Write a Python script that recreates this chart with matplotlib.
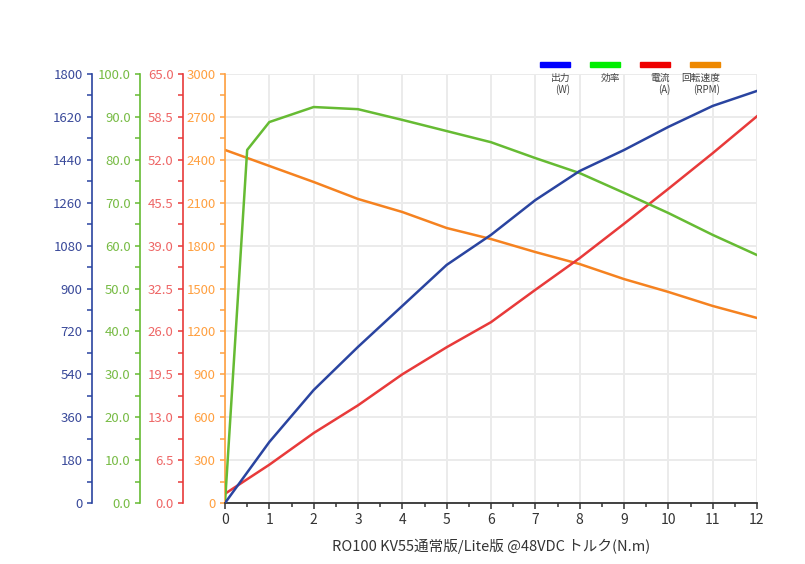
import matplotlib.pyplot as plt
from matplotlib.patches import Rectangle
from matplotlib.ticker import MultipleLocator, FormatStrFormatter

plt.rcParams['font.family'] = ['Noto Sans CJK JP', 'DejaVu Sans']

# data
torque = [0, 1, 2, 3, 4, 5, 6, 7, 8, 9, 10, 11, 12]
power = [0, 256, 474, 655, 827, 999, 1125, 1271, 1393, 1481, 1578, 1666, 1729]
eff_torque = [0, 0.5, 1, 2, 3, 4, 5, 6, 7, 8, 9, 10, 11, 12]
efficiency = [0, 82.3, 88.8, 92.3, 91.8, 89.3, 86.7, 84.1, 80.4, 76.9, 72.3, 67.6, 62.5, 57.8]
current = [1.4, 5.8, 10.6, 14.8, 19.5, 23.6, 27.4, 32.3, 37.1, 42.3, 47.6, 53.0, 58.6]
rpm = [2469, 2357, 2245, 2126, 2035, 1923, 1846, 1755, 1671, 1566, 1476, 1378, 1294]

legend_labels = ['出力\n(W)', '効率', '電流\n(A)', '回転速度\n(RPM)']
legend_colors = ['#0000ff', '#00ee00', '#ee0000', '#ee8800']
xlabel = 'RO100 KV55通常版/Lite版 @48VDC トルク(N.m)'

c_blue, c_green, c_red, c_orange = '#2a44a0', '#66bb33', '#e83a3a', '#f58220'
t_blue, t_green, t_red, t_orange = '#3a4a9a', '#77bb44', '#ee6666', '#ffa040'

fig = plt.figure(figsize=(8.05, 5.64), dpi=100)
ax = fig.add_axes([225 / 805, 1 - 503 / 564, 532 / 805, 429 / 564])

ax.set_xlim(0, 12)
ax.set_ylim(0, 3000)
ax.xaxis.set_major_locator(MultipleLocator(1))
ax.xaxis.set_minor_locator(MultipleLocator(0.5))
ax.grid(True, which='major', color='#ebebeb', linewidth=1.4)
ax.set_axisbelow(True)
for s in ['top', 'right']:
    ax.spines[s].set_visible(False)
ax.spines['bottom'].set_color('#333333')
ax.spines['bottom'].set_linewidth(1.3)
ax.tick_params(axis='x', which='both', direction='out', colors='#333333',
               labelsize=10, length=3, width=1.1)
ax.tick_params(axis='x', which='major', length=4)
ax.set_xlabel(xlabel, fontsize=10.5, color='#333333', labelpad=8)


def style_axis(a, color, tcolor, major, fmt, lim):
    a.set_ylim(0, lim)
    a.yaxis.set_major_locator(MultipleLocator(major))
    a.yaxis.set_minor_locator(MultipleLocator(major / 2))
    a.yaxis.set_major_formatter(FormatStrFormatter(fmt))
    a.spines['left'].set_color(color)
    a.spines['left'].set_linewidth(1.2)
    a.tick_params(axis='y', which='both', direction='out', color=color,
                  labelcolor=tcolor, labelsize=9.5, length=3.3, width=1.1,
                  pad=3.5)


style_axis(ax, t_orange, t_orange, 300, '%d', 3000)
ax.plot(torque, rpm, color=c_orange, linewidth=1.8)

offsets = [(-42 / 532, c_red, t_red, 6.5, '%.1f', 65, current, torque),
           (-85 / 532, c_green, t_green, 10, '%.1f', 100, efficiency, eff_torque),
           (-133 / 532, c_blue, t_blue, 180, '%d', 1800, power, torque)]
for off, col, tcol, major, fmt, lim, ys, xs in offsets:
    a = ax.twinx()
    a.yaxis.set_ticks_position('left')
    a.yaxis.set_label_position('left')
    for s in ['top', 'right', 'bottom']:
        a.spines[s].set_visible(False)
    a.spines['left'].set_visible(True)
    a.spines['left'].set_position(('axes', off))
    style_axis(a, col, tcol, major, fmt, lim)
    a.plot(xs, ys, color=col, linewidth=1.8)
    a.set_xlim(0, 12)

# legend at top right
for i, (lab, col) in enumerate(zip(legend_labels, legend_colors)):
    x0 = 540 + i * 50
    fig.patches.append(Rectangle((x0 / 805, 1 - 67 / 564), 30 / 805, 5 / 564,
                                 transform=fig.transFigure, color=col))
    fig.text((x0 + 30) / 805, 1 - 73 / 564, lab, ha='right', va='top',
             fontsize=7, color='#444444', linespacing=1.1)

fig.savefig('out.png', dpi=100)
